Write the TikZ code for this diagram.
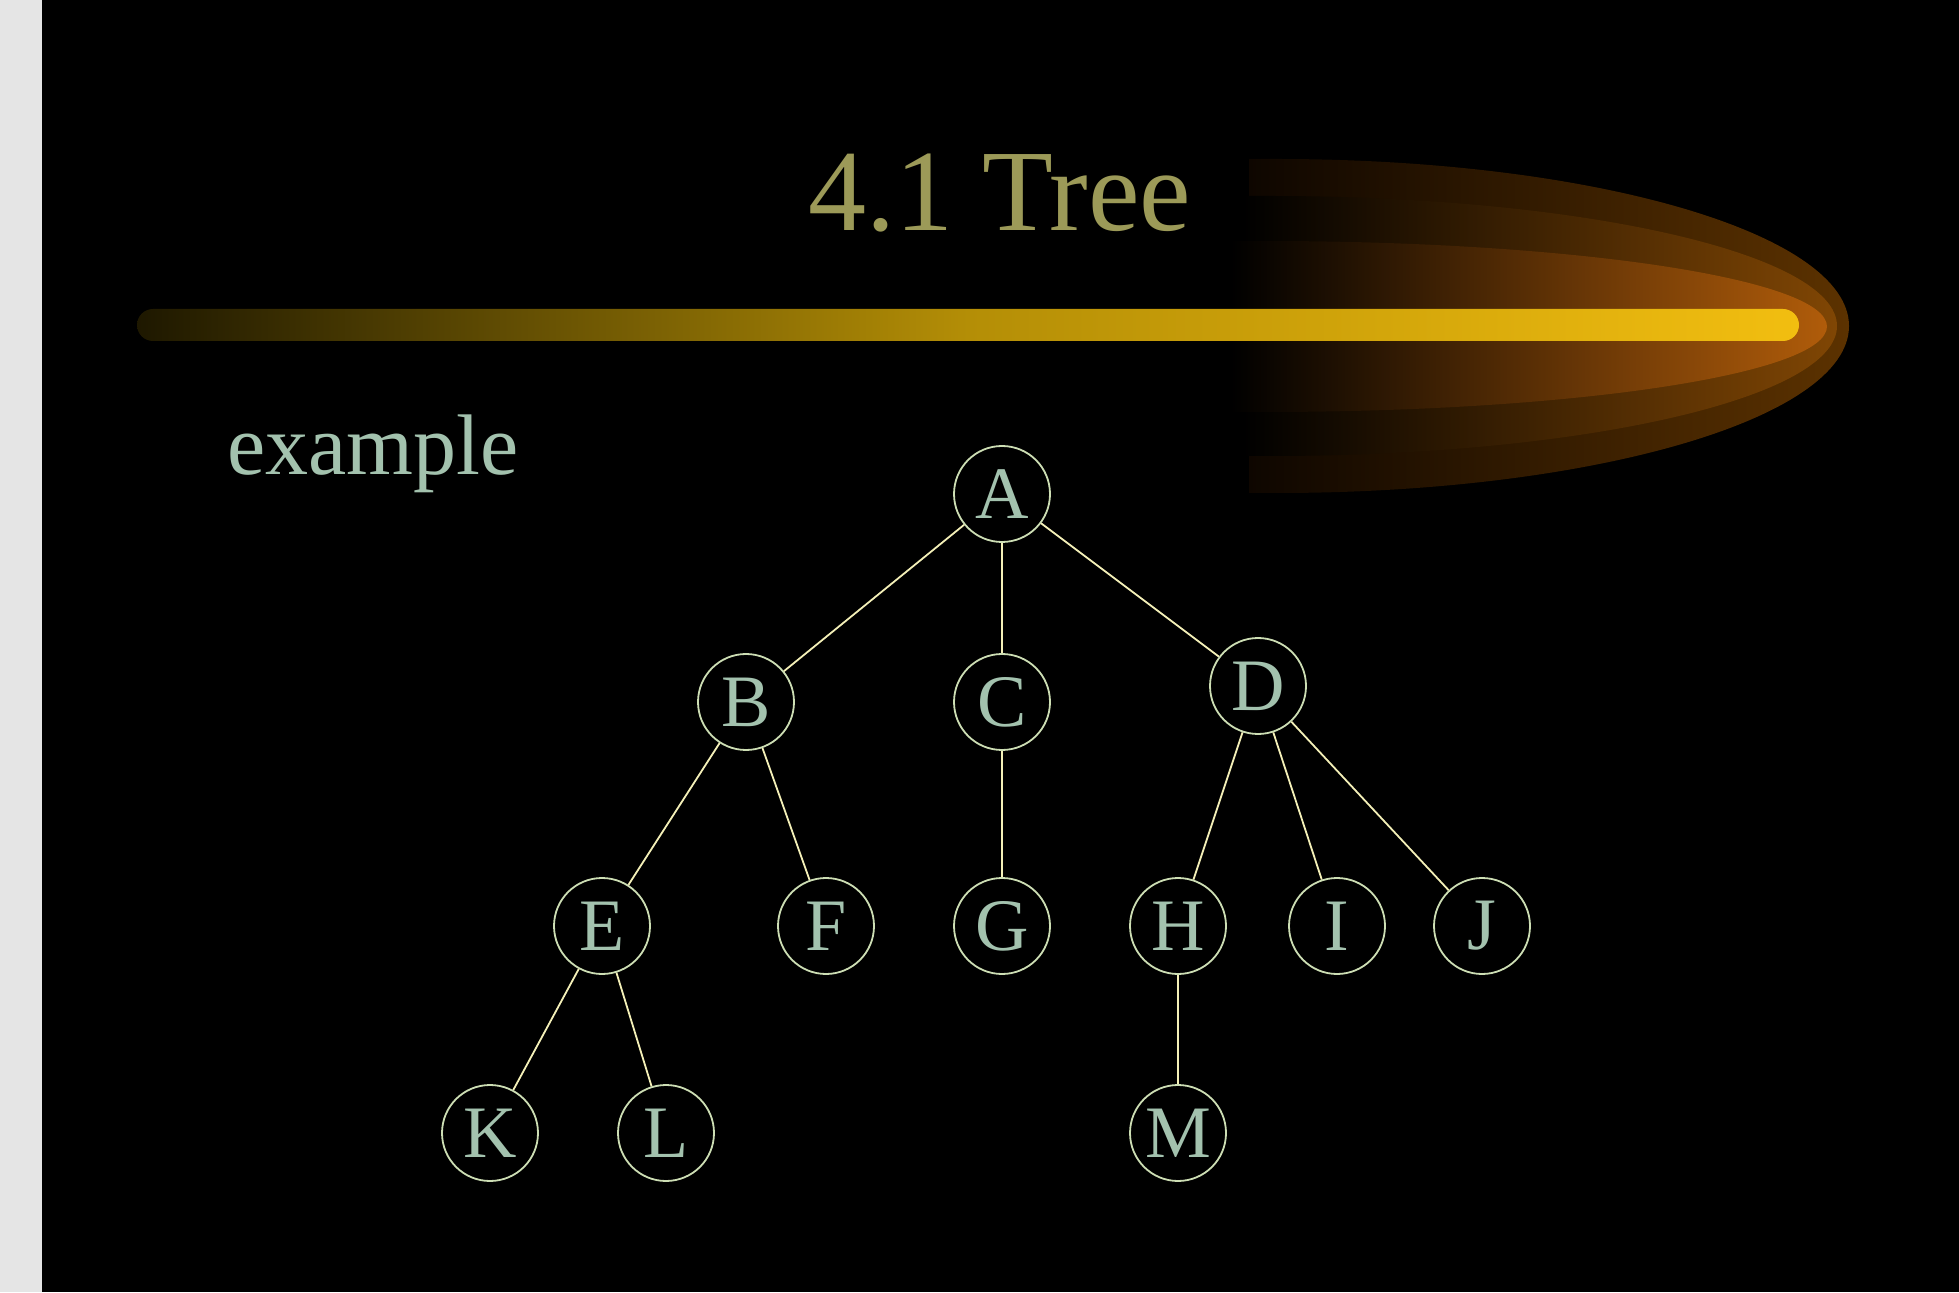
\documentclass[tikz,border=0pt]{standalone}
\usepackage{fontspec}
\setmainfont{Liberation Serif}
\definecolor{sage}{RGB}{163,194,174}
\definecolor{cream}{RGB}{244,240,184}
\definecolor{ringcol}{RGB}{205,222,180}
\definecolor{olive}{RGB}{156,154,88}
\definecolor{barlow}{RGB}{30,24,0}
\definecolor{barmid}{RGB}{180,142,6}
\definecolor{barhigh}{RGB}{242,190,16}
\tikzset{
  knoten/.style={circle,draw=ringcol,line width=0.9pt,minimum size=48pt,inner sep=0pt,
    text=sage,font=\fontsize{37}{40}\selectfont},
  kante/.style={draw=cream,line width=0.9pt}
}
\begin{document}
\begin{tikzpicture}[x=0.5pt,y=0.5pt]
\useasboundingbox (0,0) rectangle (1959,1292);
% Hintergrund:
\fill [black!10] (0,0) rectangle (42,1292);
\fill [black] (42,0) rectangle (1959,1292);
% Leuchten rechts:
\shade [left color={rgb,255:red,14;green,6;blue,0}, right color={rgb,255:red,92;green,50;blue,0}]
  (1249,799) -- (1277,799) arc[start angle=-90,end angle=90,x radius=286pt,y radius=83.5pt] -- (1249,1133) -- cycle;
\shade [left color=black, right color={rgb,255:red,128;green,70;blue,4}]
  (1243,836) -- (1270,836) arc[start angle=-90,end angle=90,x radius=283.5pt,y radius=65pt] -- (1243,1096) -- cycle;
\shade [left color=black, right color={rgb,255:red,176;green,92;blue,10}]
  (1231,880) -- (1265,880) arc[start angle=-90,end angle=90,x radius=281pt,y radius=42.75pt] -- (1231,1051) -- cycle;
% Balken:
\shade [left color=barlow, right color=barhigh, middle color=barmid, rounded corners=8pt] (137,951) rectangle (1799,983);
% Texte:
\node [anchor=base, text=olive, font=\fontsize{58}{60}\selectfont] (titel) at (1000,1061) {4.1 Tree};
\node [anchor=base west, inner sep=0pt, text=sage, font=\fontsize{43}{46}\selectfont] (bsp) at (227,817) {example};
% Knoten:
\node [knoten] (A) at (1002,798) {A};
\node [knoten] (B) at (746,590) {B};
\node [knoten] (C) at (1002,590) {C};
\node [knoten] (D) at (1258,606) {D};
\node [knoten] (E) at (602,366) {E};
\node [knoten] (F) at (826,366) {F};
\node [knoten] (G) at (1002,366) {G};
\node [knoten] (H) at (1178,366) {H};
\node [knoten] (I) at (1337,366) {I};
\node [knoten] (J) at (1482,366) {J};
\node [knoten] (K) at (490,159) {K};
\node [knoten] (L) at (666,159) {L};
\node [knoten] (M) at (1178,159) {M};
% Kanten:
\draw [kante] (A) -- (B);
\draw [kante] (A) -- (C);
\draw [kante] (A) -- (D);
\draw [kante] (B) -- (E);
\draw [kante] (B) -- (F);
\draw [kante] (C) -- (G);
\draw [kante] (D) -- (H);
\draw [kante] (D) -- (I);
\draw [kante] (D) -- (J);
\draw [kante] (E) -- (K);
\draw [kante] (E) -- (L);
\draw [kante] (H) -- (M);
\end{tikzpicture}
\end{document}
